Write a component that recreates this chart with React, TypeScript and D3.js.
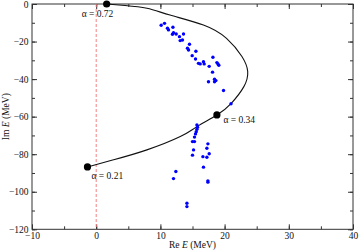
import React, { useEffect, useRef } from 'react';
import * as d3 from 'd3';

// trajectory of the complex-scaled resonance (Re E, Im E) in MeV
const curveRe = [1.63, 4.5, 7.9, 11.5, 16.7, 20.3, 22.7, 23.6, 23.0, 21.0, 18.8, 15.7, 13.1, 7.9, 2.7, -1.36];
const curveIm = [0, -0.8, -2.3, -5.9, -11.2, -18.3, -28, -36, -44, -53, -59.1, -65.3, -70.6, -77.7, -83.0, -86.8];

// marked points on the trajectory
const alphaLabels = ['α = 0.72', 'α = 0.34', 'α = 0.21'];
const alphaRe = [1.63, 18.8, -1.36];
const alphaIm = [0, -59.1, -86.8];

// eigenvalue cloud
const ptsRe = [
  10.12, 10.64, 11.1, 11.26, 11.95, 12.04, 11.88, 12.46, 12.97, 13.6, 13.44, 13.08, 14.53, 14.22, 14.38,
  15.53, 14.95, 15.47, 15.93, 16.2, 16.71, 16.82, 17.6, 18.18, 18.8, 18.96, 19.1, 18.12, 17.49, 18.43,
  18.64, 18.43, 19.83, 21.0,
  15.69, 15.78, 15.69, 15.58, 15.47, 15.31, 15.0, 15.31, 15.16, 15.0, 17.4, 17.24, 17.6, 16.62, 17.24,
  16.71, 12.41, 12.04, 17.4, 17.4, 14.13, 14.13,
];
const ptsIm = [
  -11.3, -10.3, -12.9, -13.8, -12.4, -15.3, -16.1, -16.0, -17.4, -16.0, -19.2, -19.5, -21.4, -23.6, -24.5,
  -25.2, -27.5, -29.3, -31.6, -31.9, -30.7, -31.9, -33.2, -28.4, -31.2, -31.9, -32.6, -36.3, -41.4, -40.1,
  -40.8, -41.4, -46.1, -53.1,
  -64.4, -65.6, -66.7, -68.0, -69.2, -70.9, -73.3, -73.3, -77.7, -80.5, -74.5, -76.8, -79.8, -81.3, -81.6,
  -86.9, -89.2, -93.0, -94.2, -94.9, -106.1, -107.9,
];

const xTicks = [-10, 0, 10, 20, 30, 40];
const yTicks = [-120, -100, -80, -60, -40, -20, 0];

const W = 359;
const H = 251;
const font = "'Liberation Serif', 'Times New Roman', Times, serif";

const App = () => {
  const svgRef = useRef<SVGSVGElement>(null);

  useEffect(() => {
    const svg = d3.select(svgRef.current);
    svg.selectAll('*').remove();

    const left = 32, right = 353, top = 4, bottom = 229.3;

    const x = d3.scaleLinear().domain([-10, 40]).range([left, right]);
    const y = d3.scaleLinear().domain([-120, 0]).range([bottom, top]);

    const minorX = d3.range(-10, 41, 5);
    const minorY = d3.range(-120, 1, 10);

    const styleAxis = (g) => {
      g.select('.domain').remove();
      g.selectAll('line').attr('stroke', '#333');
      g.selectAll('text')
        .style('font-family', font)
        .style('font-size', '9.5px')
        .attr('fill', '#111');
    };

    // bottom
    svg.append('g').attr('transform', `translate(0,${bottom})`)
      .call(d3.axisBottom(x).tickValues(minorX).tickSize(-3).tickFormat(() => ''))
      .call(styleAxis);
    svg.append('g').attr('transform', `translate(0,${bottom})`)
      .call(d3.axisBottom(x).tickValues(xTicks).tickSize(-5).tickPadding(2.5).tickFormat(d3.format('d')))
      .call(styleAxis);
    // top
    svg.append('g').attr('transform', `translate(0,${top})`)
      .call(d3.axisTop(x).tickValues(minorX).tickSize(-3).tickFormat(() => ''))
      .call(styleAxis);
    svg.append('g').attr('transform', `translate(0,${top})`)
      .call(d3.axisTop(x).tickValues(xTicks).tickSize(-5).tickFormat(() => ''))
      .call(styleAxis);
    // left
    svg.append('g').attr('transform', `translate(${left},0)`)
      .call(d3.axisLeft(y).tickValues(minorY).tickSize(-3).tickFormat(() => ''))
      .call(styleAxis);
    svg.append('g').attr('transform', `translate(${left},0)`)
      .call(d3.axisLeft(y).tickValues(yTicks).tickSize(-5).tickPadding(3.5).tickFormat(d3.format('d')))
      .call(styleAxis);
    // right
    svg.append('g').attr('transform', `translate(${right},0)`)
      .call(d3.axisRight(y).tickValues(minorY).tickSize(-3).tickFormat(() => ''))
      .call(styleAxis);
    svg.append('g').attr('transform', `translate(${right},0)`)
      .call(d3.axisRight(y).tickValues(yTicks).tickSize(-5).tickFormat(() => ''))
      .call(styleAxis);

    // frame
    svg.append('rect')
      .attr('x', left).attr('y', top)
      .attr('width', right - left).attr('height', bottom - top)
      .attr('fill', 'none').attr('stroke', '#333').attr('stroke-width', 1);

    // Re E = 0 reference line
    svg.append('line')
      .attr('x1', x(0)).attr('x2', x(0))
      .attr('y1', top).attr('y2', bottom)
      .attr('stroke', '#f48080').attr('stroke-width', 1)
      .attr('stroke-dasharray', '3,2');

    // trajectory
    const traj = curveRe.map((r, i) => [r, curveIm[i]]);
    const line = d3.line()
      .x(d => x(d[0]))
      .y(d => y(d[1]))
      .curve(d3.curveNatural);
    svg.append('path')
      .datum(traj)
      .attr('fill', 'none')
      .attr('stroke', '#111')
      .attr('stroke-width', 1.1)
      .attr('d', line);

    // eigenvalues
    svg.selectAll('.pt')
      .data(ptsRe.map((r, i) => [r, ptsIm[i]]))
      .enter()
      .append('circle')
      .attr('class', 'pt')
      .attr('cx', d => x(d[0]))
      .attr('cy', d => y(d[1]))
      .attr('r', 1.7)
      .attr('fill', '#0000ff');

    // alpha markers
    svg.selectAll('.alpha')
      .data(alphaLabels)
      .enter()
      .append('circle')
      .attr('class', 'alpha')
      .attr('cx', (_, i) => x(alphaRe[i]))
      .attr('cy', (_, i) => y(alphaIm[i]))
      .attr('r', 3.6)
      .attr('fill', '#000');

    const labelOffset = [[-25, 12.5], [6.5, 8], [4, 12.5]];
    svg.selectAll('.alphaText')
      .data(alphaLabels)
      .enter()
      .append('text')
      .attr('class', 'alphaText')
      .attr('x', (_, i) => x(alphaRe[i]) + labelOffset[i][0])
      .attr('y', (_, i) => y(alphaIm[i]) + labelOffset[i][1])
      .style('font-family', font)
      .style('font-size', '9.5px')
      .attr('fill', '#111')
      .text(d => d);

    // axis titles
    const xt = svg.append('text')
      .attr('x', (left + right) / 2)
      .attr('y', 248)
      .attr('text-anchor', 'middle')
      .style('font-family', font)
      .style('font-size', '9.5px')
      .attr('fill', '#111');
    xt.append('tspan').text('Re ');
    xt.append('tspan').attr('font-style', 'italic').text('E');
    xt.append('tspan').text(' (MeV)');

    const yt = svg.append('text')
      .attr('transform', `translate(9,${(top + bottom) / 2}) rotate(-90)`)
      .attr('text-anchor', 'middle')
      .style('font-family', font)
      .style('font-size', '9.5px')
      .attr('fill', '#111');
    yt.append('tspan').text('Im ');
    yt.append('tspan').attr('font-style', 'italic').text('E');
    yt.append('tspan').text(' (MeV)');
  }, []);

  return (
    <svg
      ref={svgRef}
      width={W}
      height={H}
      style={{ position: 'absolute', left: 0, top: 0, background: '#fff' }}
    />
  );
};

export default App;
